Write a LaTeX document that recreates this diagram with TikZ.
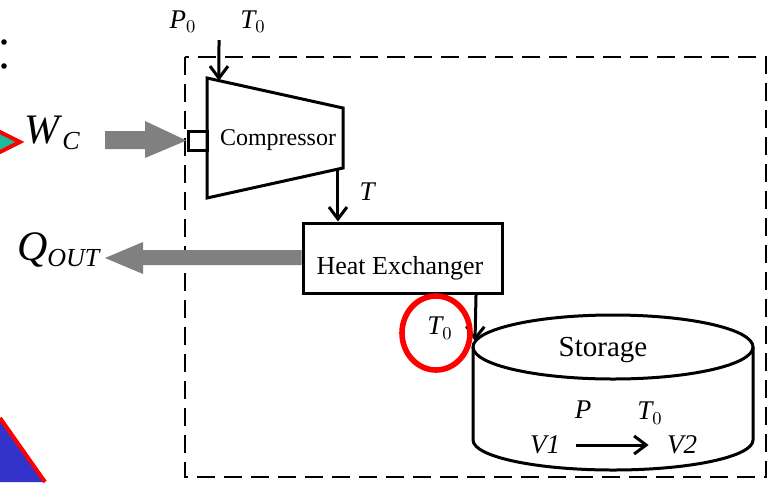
\documentclass[tikz,border=0pt]{standalone}
\usepackage{fontspec}
\setmainfont{Liberation Serif}
\usetikzlibrary{arrows.meta,positioning,calc}
\definecolor{FlowGray}{HTML}{808080}
\definecolor{MarkRed}{HTML}{FF0000}
\definecolor{SlideBlue}{HTML}{3333CC}
\definecolor{SlideTeal}{HTML}{1ABC9C}
\newcommand{\bigsub}[2]{\textit{#1}\raisebox{-3pt}{\fontsize{13}{14}\selectfont\textit{#2}}}

\begin{document}
\begin{tikzpicture}[x=0.5pt,y=-0.5pt,>={Straight Barb[length=6pt,width=9pt]},
  unit/.style={draw,line width=1.5pt,line join=miter},
  lbl/.style={font=\fontsize{13.5}{15}\selectfont,inner sep=0pt},
  big/.style={font=\fontsize{21}{24}\selectfont,inner sep=0pt},
  flow/.style={->,line width=1.5pt}]
  \useasboundingbox (0,0) rectangle (769,482);

  % slide decorations cut by the frame
  \fill[SlideBlue] (0,418) -- (45,482) -- (0,482) -- cycle;
  \draw[MarkRed,line width=2pt] (0,418) -- (45,482);
  \filldraw[fill=SlideTeal,draw=MarkRed,line width=2pt] (-20,122) -- (20,142) -- (-20,162) -- cycle;
  \fill (4,42) circle (2.8) (4,66) circle (2.8);

  % control volume
  \draw[line width=1pt,dash pattern=on 9pt off 4.5pt] (185,57) rectangle (766,477);

  % compressor
  \coordinate (c1) at (207,78);
  \coordinate (c2) at (343,108);
  \coordinate (c3) at (343,168);
  \coordinate (c4) at (207,198);
  \draw[unit] (c1) -- (c2) -- (c3) -- (c4) -- cycle;
  \node[font=\fontsize{12}{14}\selectfont] (comp) at (278,140) {Compressor};
  \node[unit,minimum size=9.5pt,inner sep=0pt] (shaft) at (197.5,140.5) {};
  \coordinate (cin) at ($(c1)!0.088!(c2)$);
  \coordinate (cout) at ($(c4)!0.963!(c3)$);
  \coordinate (inlet) at (219,40);
  \node[lbl] (p0) at (183,22) {$\textit{P}_0$};
  \node[lbl] (t0in) at (253,22) {$\textit{T}_0$};
  \draw[flow] (inlet) -- (cin);

  % work input
  \node[big] (wc) at (52,133) {\bigsub{W}{C}};
  \fill[FlowGray] (105,131) -- (145,131) -- (145,121) -- (shaft.west) -- (145,158)
    -- (145,149) -- (105,149) -- cycle;

  % heat exchanger
  \node[unit,minimum width=99.5pt,minimum height=35pt] (hx) at (402.5,258) {};
  \node[font=\fontsize{13}{15}\selectfont] (hxl) at (400,268) {Heat Exchanger};
  \node[lbl] (tmid) at (368,192) {\textit{T}};
  \draw[flow] (cout) -- (cout |- hx.north);

  % heat rejection
  \node[big] (qout) at (59,250) {\bigsub{Q}{OUT}};
  \fill[FlowGray] (hx.west |- 0,250) -- (143,250) -- (143,242) -- (105,258) -- (143,274)
    -- (143,265) -- (hx.west |- 0,265) -- cycle;

  % storage tank
  \draw[unit] (473,347) -- (473,440) arc[start angle=180,end angle=360,x radius=70pt,y radius=15pt]
    -- (753,347);
  \draw[unit] (613,347) ellipse[x radius=70pt,y radius=16pt];
  \node[font=\fontsize{14.5}{16}\selectfont] (stor) at (603,350) {Storage};
  \node[lbl] (ptank) at (583,410) {\textit{P}};
  \node[lbl] (ttank) at (650,413) {$\textit{T}_0$};
  \node[lbl] (v1) at (545,445) {\textit{V1}};
  \node[lbl] (v2) at (682,445) {\textit{V2}};
  \draw[flow,shorten <=8pt,shorten >=9pt] (v1) -- (v2);
  \coordinate (hxout) at ($(hx.south west)!0.864!(hx.south east)$);
  \coordinate (sin) at (475,341);
  \draw[flow] (hxout) -- (sin);

  % highlighted outlet temperature
  \node[lbl] (t0out) at (440,328) {$\textit{T}_0$};
  \draw[MarkRed,line width=2.8pt] (436,333) ellipse[x radius=17pt,y radius=18.5pt];
\end{tikzpicture}
\end{document}
